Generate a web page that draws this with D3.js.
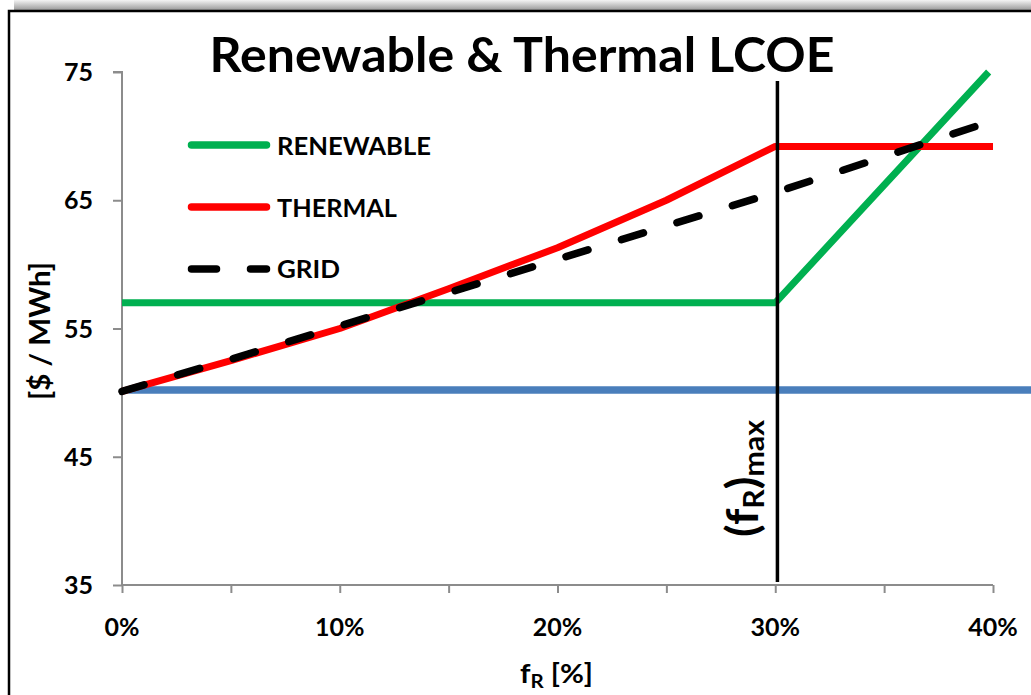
<!DOCTYPE html>
<html>
<head>
<meta charset="utf-8">
<script src="https://cdn.jsdelivr.net/npm/d3@7"></script>
<style>
  html, body { margin: 0; padding: 0; background: #fff; }
  svg { display: block; font-family: Lato, "Open Sans", sans-serif; font-weight: bold; }
</style>
</head>
<body>
<svg id="chart" width="1031" height="695"></svg>
<script>
// ---- data ----
const xTicks = [0, 10, 20, 30, 40];
const xMinorTicks = [0, 5, 10, 15, 20, 25, 30, 35, 40];
const yTicks = [35, 45, 55, 65, 75];

const renewableX = [0, 30, 39.8];
const renewableY = [57, 57, 75];

const thermalX = [0, 5, 10, 15, 20, 25, 30, 40];
const thermalY = [50.1, 52.5, 55.0, 58.1, 61.3, 65.0, 69.2, 69.2];

const gridX = [0, 5, 10, 15, 20, 25, 30, 35, 40];
const gridY = [50.1, 52.6, 55.2, 57.8, 60.4, 63.0, 65.6, 68.4, 71.2];

const baseX = [0.3, 42];
const baseY = [50.2, 50.2];

const fRmax = 30.1;

const legendNames = ["RENEWABLE", "THERMAL", "GRID"];

// ---- drawing ----
const svg = d3.select("#chart");
const W = 1031, H = 695;

const x = d3.scaleLinear().domain([0, 40]).range([122, 993]);
const y = d3.scaleLinear().domain([35, 75]).range([585, 72]);

// frame shadow + border
const defs = svg.append("defs");
const grad = defs.append("linearGradient").attr("id", "shadow")
  .attr("x1", 0).attr("y1", 0).attr("x2", 0).attr("y2", 1);
grad.append("stop").attr("offset", "0%").attr("stop-color", "#f4f4f4");
grad.append("stop").attr("offset", "100%").attr("stop-color", "#9a9a9a");
svg.append("rect").attr("x", 14).attr("y", 0).attr("width", W - 14).attr("height", 10)
  .attr("fill", "url(#shadow)");
svg.append("rect").attr("x", 9).attr("y", 11).attr("width", W + 20).attr("height", H + 20)
  .attr("fill", "#fff").attr("stroke", "#000").attr("stroke-width", 2.5);

// axes
const axisColor = "#8c8c8c";
const yAxis = d3.axisLeft(y).tickValues(yTicks).tickSize(9).tickFormat(d3.format("d"));
const gy = svg.append("g").attr("transform", `translate(${x(0)},0)`).call(yAxis);
gy.select(".domain").attr("stroke", axisColor).attr("stroke-width", 2)
  .attr("d", `M-9,${y(75)}H0V${y(35)}`);
gy.selectAll(".tick line").attr("stroke", axisColor).attr("stroke-width", 2);
gy.selectAll(".tick text").remove();
gy.selectAll(".tick").append("text")
  .attr("x", -29).attr("dy", "0.34em").attr("text-anchor", "end")
  .attr("fill", "#000").style("font-size", "25px").style("font-weight", "bold")
  .style("font-family", "Lato, sans-serif")
  .text(d => d);

const xAxis = d3.axisBottom(x).tickValues(xMinorTicks).tickSize(8).tickFormat("");
const gx = svg.append("g").attr("transform", `translate(0,${y(35)})`).call(xAxis);
gx.select(".domain").attr("stroke", axisColor).attr("stroke-width", 2)
  .attr("d", `M${x(0)},0H${x(40)}`);
gx.selectAll(".tick line").attr("stroke", axisColor).attr("stroke-width", 2);
svg.append("g").selectAll("text").data(xTicks).join("text")
  .attr("x", d => x(d)).attr("y", 636).attr("text-anchor", "middle")
  .style("font-size", "25px").text(d => d + "%");

// series
const line = d3.line().x(d => x(d[0])).y(d => y(d[1]));
const zip = (a, b) => a.map((v, i) => [v, b[i]]);

svg.append("path").datum(zip(baseX, baseY)).attr("d", line)
  .attr("fill", "none").attr("stroke", "#4A7EBB").attr("stroke-width", 7.5);

svg.append("path").datum(zip(renewableX, renewableY)).attr("d", line)
  .attr("fill", "none").attr("stroke", "#00B050").attr("stroke-width", 7)
  .attr("stroke-linejoin", "round");

svg.append("path").datum(zip(thermalX, thermalY)).attr("d", line)
  .attr("fill", "none").attr("stroke", "#FF0000").attr("stroke-width", 7)
  .attr("stroke-linejoin", "round");

svg.append("path").datum(zip(gridX, gridY)).attr("d", line)
  .attr("fill", "none").attr("stroke", "#000").attr("stroke-width", 7.5)
  .attr("stroke-linecap", "round").attr("stroke-dasharray", "23,35");

// f_R max vertical line
svg.append("line").attr("x1", x(fRmax)).attr("x2", x(fRmax))
  .attr("y1", 81).attr("y2", 582).attr("stroke", "#000").attr("stroke-width", 3.5);

const vlab = svg.append("text")
  .attr("transform", `translate(758,537) rotate(-90)`)
  .attr("text-anchor", "start")
  .attr("textLength", 117).attr("lengthAdjust", "spacingAndGlyphs")
  .style("font-size", "44px");
vlab.append("tspan").text("(f");
vlab.append("tspan").attr("baseline-shift", "-22%").style("font-size", "29px").text("R");
vlab.append("tspan").text(")");
vlab.append("tspan").attr("baseline-shift", "-22%").style("font-size", "29px").text("max");

// title
svg.append("text").attr("x", 522).attr("y", 72).attr("text-anchor", "middle")
  .attr("textLength", 625).attr("lengthAdjust", "spacingAndGlyphs")
  .style("font-size", "47px").text("Renewable & Thermal LCOE");

// axis titles
const xt = svg.append("text").attr("x", 520).attr("y", 683)
  .attr("textLength", 73).attr("lengthAdjust", "spacingAndGlyphs")
  .style("font-size", "27px");
xt.append("tspan").text("f");
xt.append("tspan").attr("baseline-shift", "-25%").style("font-size", "19px").text("R");
xt.append("tspan").text(" [%]");

svg.append("text").attr("transform", "translate(50,331) rotate(-90)")
  .attr("text-anchor", "middle")
  .attr("textLength", 138).attr("lengthAdjust", "spacingAndGlyphs")
  .style("font-size", "29px").text("[$ / MWh]");

// legend
const legColors = ["#00B050", "#FF0000", "#000"];
const legY = [145, 207, 269];
const legTextY = [155, 217, 278];
const legLen = [154, 120, 63];
const leg = svg.append("g");
legendNames.forEach((name, i) => {
  leg.append("line").attr("x1", 191.5).attr("x2", 266.5).attr("y1", legY[i]).attr("y2", legY[i])
    .attr("stroke", legColors[i]).attr("stroke-width", 7.5).attr("stroke-linecap", "round")
    .attr("stroke-dasharray", i === 2 ? "25,34" : null);
  leg.append("text").attr("x", 277).attr("y", legTextY[i])
    .attr("textLength", legLen[i]).attr("lengthAdjust", "spacingAndGlyphs")
    .style("font-size", "25px").text(name);
});
</script>
</body>
</html>
